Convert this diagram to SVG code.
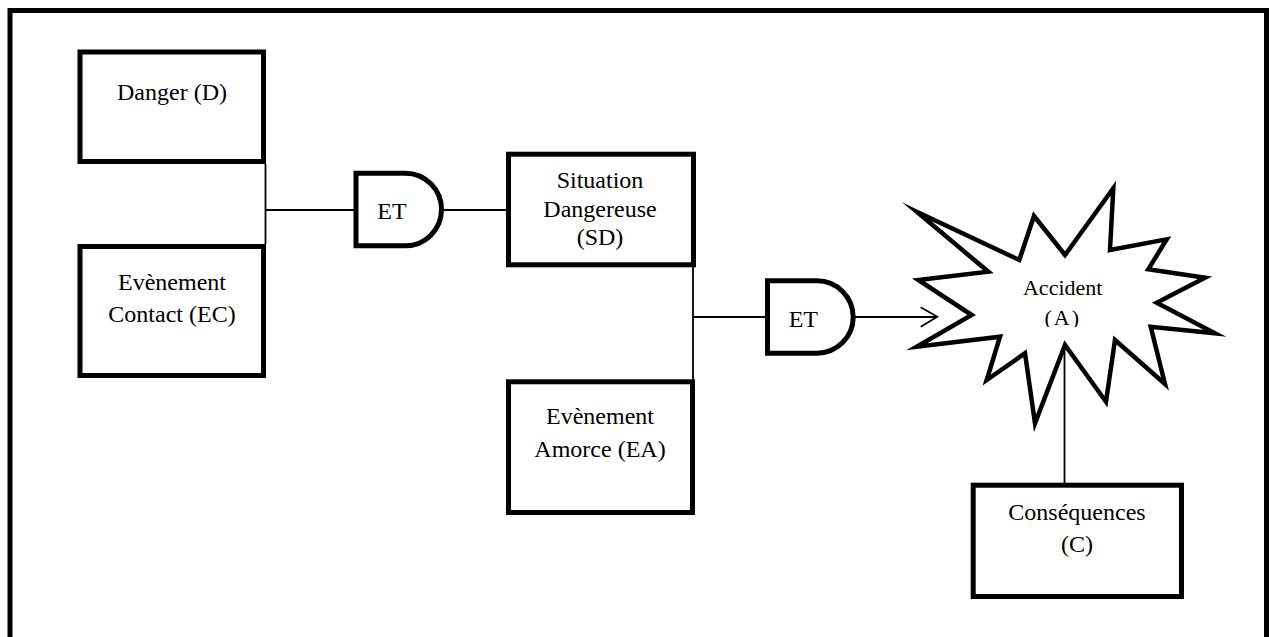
<svg xmlns="http://www.w3.org/2000/svg" width="1269" height="637" viewBox="0 0 1269 637">
<style>
.box{fill:#fff;stroke:#000;stroke-width:5}
.gate{fill:#fff;stroke:#000;stroke-width:5}
.ln{fill:none;stroke:#000;stroke-width:1.8}
text{font-family:"Liberation Serif","Times New Roman",serif;font-size:24px;fill:#000;text-anchor:middle}
</style>
<defs>
<clipPath id="clipA"><rect x="990" y="260" width="150" height="67"/></clipPath>
</defs>
<rect x="0" y="0" width="1269" height="637" fill="#fff"/>
<rect x="10" y="10.5" width="1256.5" height="640" fill="none" stroke="#000" stroke-width="5"/>
<g id="connectors">
<line class="ln" x1="265.5" y1="164" x2="265.5" y2="244"/>
<line class="ln" x1="265.5" y1="210" x2="354" y2="210"/>
<line class="ln" x1="443" y1="210" x2="507" y2="210"/>
<line class="ln" x1="693" y1="267" x2="693" y2="380"/>
<line class="ln" x1="693" y1="317" x2="766" y2="317"/>
<line class="ln" x1="855" y1="317" x2="937" y2="317"/>
<polyline class="ln" points="920.7,307.3 937.3,316.8 920.7,326.7"/>
<line class="ln" x1="1064.5" y1="345" x2="1064.5" y2="484"/>
</g>
<g id="danger">
<rect class="box" x="80" y="52" width="183.5" height="109.5"/>
<text x="172" y="100">Danger (D)</text>
</g>
<g id="ec">
<rect class="box" x="80" y="246.5" width="183.5" height="129"/>
<text x="172" y="290">Evènement</text>
<text x="172" y="322">Contact (EC)</text>
</g>
<g id="gate1">
<path class="gate" d="M356,173.2 H405.2 A36.3,36.3 0 0 1 405.2,245.8 H356 Z"/>
<text x="392" y="219">ET</text>
</g>
<g id="sd">
<rect class="box" x="508.5" y="154.2" width="185" height="110.6"/>
<text x="600" y="188.3">Situation</text>
<text x="600" y="216.7">Dangereuse</text>
<text x="600" y="245">(SD)</text>
</g>
<g id="ea">
<rect class="box" x="508.5" y="381.8" width="184" height="130.7"/>
<text x="600" y="424">Evènement</text>
<text x="600" y="457.3">Amorce (EA)</text>
</g>
<g id="gate2">
<path class="gate" d="M767.5,280.8 H817 A36.2,36.2 0 0 1 817,353.2 H767.5 Z"/>
<text x="803.3" y="326.7">ET</text>
</g>
<g id="accident">
<polygon fill="#fff" stroke="#000" stroke-width="4.5" stroke-miterlimit="20" points="916.7,211.7 1019.3,260 1034,216 1065,255 1113.3,188.3 1110,250 1166.7,239.3 1148.3,269.3 1205,277.7 1156.7,302.7 1215,333.3 1150.7,326.7 1165,384 1115,340 1106,401.7 1065,345 1035,423.3 1025,353.3 986.7,380 1000,336.7 916.7,346.7 971.7,315 918.3,280 988.3,271.7"/>
<text x="1062.7" y="295" style="font-size:22px">Accident</text>
<text x="1062.7" y="325" style="font-size:22px;letter-spacing:2px" clip-path="url(#clipA)">(A)</text>
</g>
<g id="consequences">
<rect class="box" x="973.2" y="485.2" width="208.3" height="111.3"/>
<text x="1077" y="520">Conséquences</text>
<text x="1077" y="552">(C)</text>
</g>
</svg>
